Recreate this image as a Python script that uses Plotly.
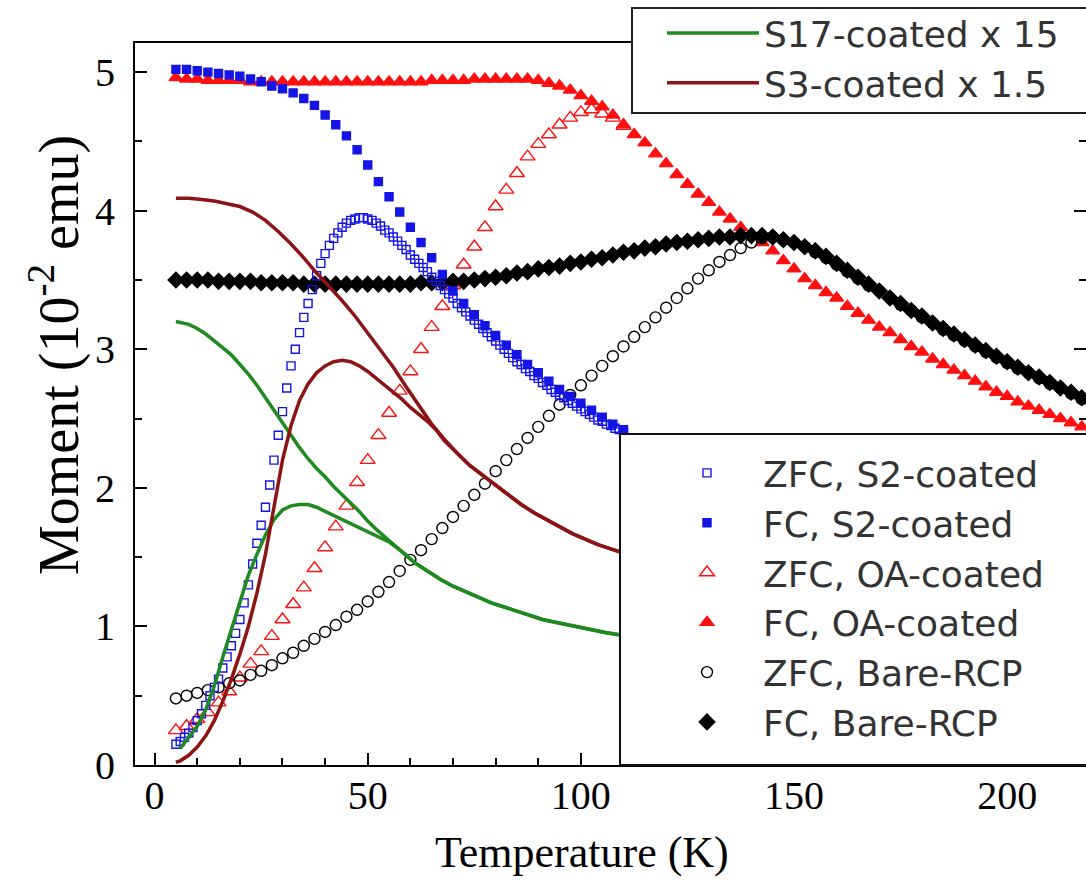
import plotly.graph_objects as go

# ---------------- data ----------------
# temperatures (K)
T_FULL = [5, 7.5, 10, 12.5, 15, 17.5, 20, 22.5, 25, 27.5, 30, 32.5, 35, 37.5, 40, 42.5,
          45, 47.5, 50, 52.5, 55, 57.5, 60, 62.5, 65, 67.5, 70, 72.5, 75, 77.5, 80, 82.5,
          85, 87.5, 90, 92.5, 95, 97.5, 100, 102.5, 105, 107.5, 110, 112.5, 115, 117.5,
          120, 122.5, 125, 127.5, 130, 132.5, 135, 137.5, 140, 142.5, 145, 147.5, 150,
          152.5, 155, 157.5, 160, 162.5, 165, 167.5, 170, 172.5, 175, 177.5, 180, 182.5,
          185, 187.5, 190, 192.5, 195, 197.5, 200, 202.5, 205, 207.5, 210, 212.5, 215, 217.5]
T_HALF = T_FULL[:43]   # 5 ... 110 K

T_S2_ZFC = [5, 6, 7, 8, 9, 10, 11, 12, 13, 14, 15, 16, 17, 18, 19, 20, 21, 22, 23, 24, 25,
            26, 27, 28, 29, 30, 31, 32, 33, 34, 35, 36, 37, 38, 39, 40, 41, 42, 43, 44, 45,
            46, 47, 48, 49, 50, 51, 52, 53, 54, 55, 56, 57, 58, 59, 60, 61, 62, 63, 64, 65,
            66, 67, 68, 69, 70, 71, 72, 73, 74, 75, 76, 77, 78, 79, 80, 81, 82, 83, 84, 85,
            86, 87, 88, 89, 90, 91, 92, 93, 94, 95, 96, 97, 98, 99, 100, 101, 102, 103, 104,
            105, 106, 107, 108, 109, 110]
M_S2_ZFC = [0.15, 0.17, 0.2, 0.23, 0.27, 0.32, 0.37, 0.43, 0.5, 0.56, 0.62, 0.7, 0.78, 0.86,
            0.95, 1.05, 1.17, 1.3, 1.45, 1.6, 1.73, 1.86, 2.02, 2.2, 2.38, 2.55, 2.72, 2.88,
            3.0, 3.12, 3.23, 3.33, 3.43, 3.53, 3.62, 3.69, 3.75, 3.8, 3.84, 3.88, 3.91, 3.93,
            3.94, 3.95, 3.95, 3.94, 3.93, 3.91, 3.89, 3.86, 3.84, 3.81, 3.78, 3.75, 3.72,
            3.68, 3.65, 3.62, 3.59, 3.56, 3.52, 3.49, 3.46, 3.43, 3.4, 3.37, 3.33, 3.3, 3.27,
            3.24, 3.21, 3.18, 3.15, 3.12, 3.09, 3.06, 3.03, 3.0, 2.97, 2.94, 2.91, 2.89, 2.86,
            2.84, 2.81, 2.79, 2.76, 2.74, 2.71, 2.69, 2.67, 2.65, 2.63, 2.61, 2.59, 2.57,
            2.55, 2.53, 2.51, 2.49, 2.48, 2.46, 2.45, 2.43, 2.42, 2.4]
M_S2_FC = [5.02, 5.02, 5.01, 5.0, 4.99, 4.98, 4.97, 4.95, 4.93, 4.9, 4.88, 4.85, 4.81, 4.76,
           4.69, 4.62, 4.54, 4.44, 4.33, 4.21, 4.1, 3.99, 3.88, 3.77, 3.66, 3.54, 3.42, 3.33,
           3.25, 3.17, 3.1, 3.03, 2.96, 2.89, 2.83, 2.77, 2.71, 2.66, 2.61, 2.56, 2.51, 2.46,
           2.42]
M_OA_ZFC = [0.25, 0.28, 0.33, 0.38, 0.45, 0.53, 0.63, 0.73, 0.82, 0.93, 1.05, 1.16, 1.28,
            1.42, 1.57, 1.72, 1.87, 2.04, 2.2, 2.38, 2.54, 2.7, 2.84, 3.0, 3.16, 3.31, 3.46,
            3.61, 3.74, 3.88, 4.03, 4.15, 4.27, 4.39, 4.48, 4.55, 4.62, 4.67, 4.71, 4.73,
            4.7, 4.67, 4.61]
M_OA_FC = [4.96, 4.95, 4.95, 4.94, 4.94, 4.94, 4.94, 4.93, 4.93, 4.93, 4.93, 4.93, 4.93,
           4.93, 4.93, 4.93, 4.93, 4.93, 4.93, 4.93, 4.93, 4.93, 4.93, 4.93, 4.94, 4.94,
           4.94, 4.94, 4.95, 4.95, 4.95, 4.95, 4.95, 4.95, 4.94, 4.92, 4.9, 4.87, 4.83,
           4.79, 4.75, 4.69, 4.62, 4.55, 4.49, 4.41, 4.34, 4.26, 4.19, 4.12, 4.06, 3.99,
           3.94, 3.88, 3.83, 3.77, 3.71, 3.64, 3.58, 3.51, 3.46, 3.41, 3.37, 3.31, 3.26,
           3.21, 3.16, 3.12, 3.07, 3.02, 2.98, 2.93, 2.89, 2.85, 2.81, 2.77, 2.73, 2.69,
           2.66, 2.62, 2.59, 2.56, 2.53, 2.5, 2.47, 2.44]
M_BARE_ZFC = [0.48, 0.5, 0.52, 0.54, 0.56, 0.59, 0.61, 0.65, 0.68, 0.72, 0.77, 0.81, 0.86,
              0.91, 0.96, 1.01, 1.07, 1.12, 1.18, 1.25, 1.32, 1.4, 1.48, 1.55, 1.63, 1.71,
              1.79, 1.87, 1.95, 2.03, 2.12, 2.2, 2.28, 2.36, 2.44, 2.52, 2.6, 2.67, 2.74,
              2.81, 2.88, 2.95, 3.02, 3.09, 3.16, 3.23, 3.3, 3.37, 3.44, 3.51, 3.57, 3.63,
              3.68, 3.73, 3.77, 3.8, 3.81, 3.79, 3.77, 3.74, 3.7, 3.66, 3.61, 3.56, 3.51,
              3.46, 3.42, 3.37, 3.32, 3.28, 3.23, 3.19, 3.14, 3.1, 3.06, 3.02, 2.98, 2.94,
              2.9, 2.86, 2.83, 2.79, 2.75, 2.72, 2.68, 2.64]
M_BARE_FC = [3.5, 3.5, 3.5, 3.5, 3.49, 3.49, 3.49, 3.49, 3.48, 3.48, 3.48, 3.48, 3.47, 3.47,
             3.47, 3.47, 3.47, 3.47, 3.47, 3.47, 3.47, 3.47, 3.47, 3.48, 3.48, 3.48, 3.49,
             3.49, 3.5, 3.51, 3.52, 3.53, 3.55, 3.56, 3.58, 3.59, 3.6, 3.62, 3.63, 3.65,
             3.66, 3.68, 3.7, 3.71, 3.73, 3.74, 3.76, 3.77, 3.78, 3.79, 3.8, 3.81, 3.81,
             3.82, 3.82, 3.82, 3.81, 3.79, 3.77, 3.74, 3.71, 3.67, 3.62, 3.57, 3.52, 3.47,
             3.42, 3.37, 3.33, 3.28, 3.24, 3.19, 3.15, 3.11, 3.07, 3.03, 2.99, 2.95, 2.91,
             2.87, 2.83, 2.8, 2.76, 2.72, 2.69, 2.65]

# S17-coated (x 15) curves
T_S17_ZFC = [6, 7, 8, 10, 12, 14, 16, 18, 20, 22, 24, 26, 28, 30, 32, 34, 36, 38, 40, 42, 44,
             46, 48, 50, 52, 55, 58, 61, 64, 67, 70, 73, 76, 79, 82, 85, 88, 91, 94, 97, 100,
             103, 106, 109]
M_S17_ZFC = [0.12, 0.16, 0.2, 0.28, 0.4, 0.57, 0.78, 0.98, 1.19, 1.37, 1.52, 1.66, 1.77,
             1.84, 1.87, 1.88, 1.88, 1.86, 1.83, 1.8, 1.77, 1.74, 1.71, 1.68, 1.65, 1.61,
             1.54, 1.46, 1.4, 1.34, 1.29, 1.25, 1.21, 1.17, 1.14, 1.11, 1.08, 1.05, 1.03,
             1.01, 0.99, 0.97, 0.955, 0.94]
T_S17_FC = [5, 8, 10, 12, 14, 16, 18, 20, 22, 24, 26, 28, 30, 32, 34, 36, 38, 40, 42, 44, 46,
            48, 50, 52, 55, 58, 61, 64, 67, 70, 73, 76, 79, 82, 85, 88, 91, 94, 97, 100, 103,
            106, 109]
M_S17_FC = [3.2, 3.18, 3.15, 3.11, 3.06, 3.01, 2.96, 2.89, 2.82, 2.74, 2.65, 2.56, 2.46,
            2.37, 2.29, 2.21, 2.14, 2.08, 2.01, 1.95, 1.89, 1.83, 1.76, 1.7, 1.62, 1.54,
            1.46, 1.4, 1.34, 1.29, 1.25, 1.21, 1.17, 1.14, 1.11, 1.08, 1.05, 1.03, 1.01,
            0.99, 0.97, 0.955, 0.94]

# S3-coated (x 1.5) curves
T_S3_ZFC = [5, 6, 8, 10, 12, 14, 16, 18, 20, 22, 24, 26, 28, 30, 32, 34, 36, 38, 40, 42, 44,
            46, 48, 50, 52, 54, 56, 58, 60, 62, 64, 66, 68, 71, 74, 77, 80, 83, 86, 89, 92,
            95, 98, 101, 104, 107, 110]
M_S3_ZFC = [0.02, 0.03, 0.07, 0.13, 0.21, 0.32, 0.46, 0.62, 0.8, 1.0, 1.24, 1.52, 1.86, 2.2,
            2.45, 2.63, 2.75, 2.83, 2.88, 2.91, 2.92, 2.91, 2.88, 2.84, 2.79, 2.74, 2.69,
            2.64, 2.58, 2.53, 2.48, 2.42, 2.34, 2.25, 2.16, 2.09, 2.02, 1.95, 1.88, 1.82,
            1.77, 1.72, 1.67, 1.63, 1.59, 1.56, 1.53]
T_S3_FC = [5, 8, 11, 14, 17, 20, 23, 26, 29, 32, 35, 38, 41, 44, 47, 50, 53, 56, 59, 62, 65,
           68, 71, 74, 77, 80, 83, 86, 89, 92, 95, 98, 101, 104, 107, 110]
M_S3_FC = [4.09, 4.09, 4.08, 4.07, 4.05, 4.03, 3.99, 3.93, 3.85, 3.76, 3.66, 3.55, 3.45,
           3.35, 3.24, 3.12, 3.0, 2.87, 2.73, 2.59, 2.46, 2.35, 2.25, 2.16, 2.09, 2.02, 1.95,
           1.88, 1.82, 1.77, 1.72, 1.67, 1.63, 1.59, 1.56, 1.53]

X_TICKS = [0, 50, 100, 150, 200]
Y_TICKS = [0, 1, 2, 3, 4, 5]

for a, b in [(T_S2_ZFC, M_S2_ZFC), (T_HALF, M_S2_FC), (T_HALF, M_OA_ZFC), (T_FULL, M_OA_FC),
             (T_FULL, M_BARE_ZFC), (T_FULL, M_BARE_FC), (T_S17_ZFC, M_S17_ZFC),
             (T_S17_FC, M_S17_FC), (T_S3_ZFC, M_S3_ZFC), (T_S3_FC, M_S3_FC)]:
    assert len(a) == len(b), (len(a), len(b))

# ---------------- styling ----------------
W, H = 1086, 882
ML, MR, MT, MB = 135, 0, 43, 117
PW, PH = W - ML - MR, H - MT - MB

BLUE = "#1414e6"
RED = "#ff1010"
BLACK = "#000000"
GREEN = "#1f8a1f"
BROWN = "#8c1414"
SERIF = "Liberation Serif, Times New Roman, serif"
SANS = "DejaVu Sans, Arial, sans-serif"


def px_x(p):
    return (p - ML) / PW


def px_y(p):
    return (H - MB - p) / PH


fig = go.Figure()


def add_markers(x, y, name, symbol, color, size, rank, lw=1.4):
    fig.add_trace(go.Scatter(
        x=x, y=y, mode="markers", name=name, legend="legend2", legendrank=rank,
        legendgroup=name,
        marker=dict(symbol=symbol, color=color, size=size, line=dict(color=color, width=lw)),
    ))


add_markers(T_FULL, M_OA_FC, "FC, OA-coated", "triangle-up", RED, 12, 4)
add_markers(T_HALF, M_OA_ZFC, "ZFC, OA-coated", "triangle-up-open", RED, 13, 3)
add_markers(T_FULL, M_BARE_ZFC, "ZFC, Bare-RCP", "circle-open", BLACK, 11, 5)
add_markers(T_FULL, M_BARE_FC, "FC, Bare-RCP", "diamond", BLACK, 12, 6)
add_markers(T_S2_ZFC, M_S2_ZFC, "ZFC, S2-coated", "square-open", BLUE, 8, 1)
add_markers(T_HALF, M_S2_FC, "FC, S2-coated", "square", BLUE, 8, 2)


def add_line(x, y, name, color, show, rank):
    fig.add_trace(go.Scatter(
        x=x, y=y, mode="lines", name=name, legend="legend", legendrank=rank,
        legendgroup=name, showlegend=show, line=dict(color=color, width=3.5),
    ))


add_line(T_S17_FC, M_S17_FC, "S17-coated x 15", GREEN, True, 1)
add_line(T_S17_ZFC, M_S17_ZFC, "S17-coated x 15", GREEN, False, 1)
add_line(T_S3_FC, M_S3_FC, "S3-coated x 1.5", BROWN, True, 2)
add_line(T_S3_ZFC, M_S3_ZFC, "S3-coated x 1.5", BROWN, False, 2)

axis_common = dict(
    showline=True, linecolor="black", linewidth=2, ticks="inside", ticklen=12,
    tickwidth=2, tickcolor="black", showgrid=False, zeroline=False,
    tickfont=dict(family=SERIF, size=40, color="black"),
)

fig.update_layout(
    width=W, height=H,
    margin=dict(l=ML, r=MR, t=MT, b=MB, autoexpand=False),
    paper_bgcolor="white", plot_bgcolor="white",
    xaxis=dict(range=[-4.6, 218.5], tickvals=X_TICKS, mirror=True,
               minor=dict(ticks="inside", ticklen=7, tickwidth=1.5, tickcolor="black", dtick=10),
               ticklabelstandoff=-6, **axis_common),
    yaxis=dict(range=[0, 5.21], tickvals=Y_TICKS, mirror="ticks",
               minor=dict(ticks="inside", ticklen=7, tickwidth=1.5, tickcolor="black", dtick=0.5),
               ticklabelstandoff=10, **axis_common),
    legend=dict(x=px_x(662), y=px_y(3), xanchor="left", yanchor="top",
                bgcolor="rgba(0,0,0,0)", borderwidth=0, itemwidth=92,
                font=dict(family=SANS, size=36, color="#333333"), tracegroupgap=0),
    legend2=dict(x=px_x(651), y=px_y(443), xanchor="left", yanchor="top",
                 bgcolor="rgba(0,0,0,0)", borderwidth=0, itemwidth=102,
                 font=dict(family=SANS, size=36, color="#333333"), tracegroupgap=0),
    showlegend=True,
    shapes=[
        dict(type="rect", xref="paper", yref="paper", x0=px_x(632), x1=1.05,
             y0=px_y(113), y1=px_y(8), fillcolor="white", line=dict(color="#222", width=2),
             layer="above"),
        dict(type="rect", xref="paper", yref="paper", x0=px_x(620), x1=1.05,
             y0=px_y(765), y1=px_y(434), fillcolor="white", line=dict(color="#111", width=2),
             layer="above"),
    ],
    annotations=[
        dict(text="Moment (10<sup>-2</sup> emu)", xref="paper", yref="paper",
             x=px_x(55), y=px_y(355), xanchor="center", yanchor="middle", textangle=-90,
             showarrow=False, font=dict(family=SERIF, size=56, color="black")),
        dict(text="Temperature (K)", xref="paper", yref="paper",
             x=px_x(582), y=px_y(852), xanchor="center", yanchor="middle",
             showarrow=False, font=dict(family=SERIF, size=44, color="black")),
    ],
)

fig.write_html("out.html")
